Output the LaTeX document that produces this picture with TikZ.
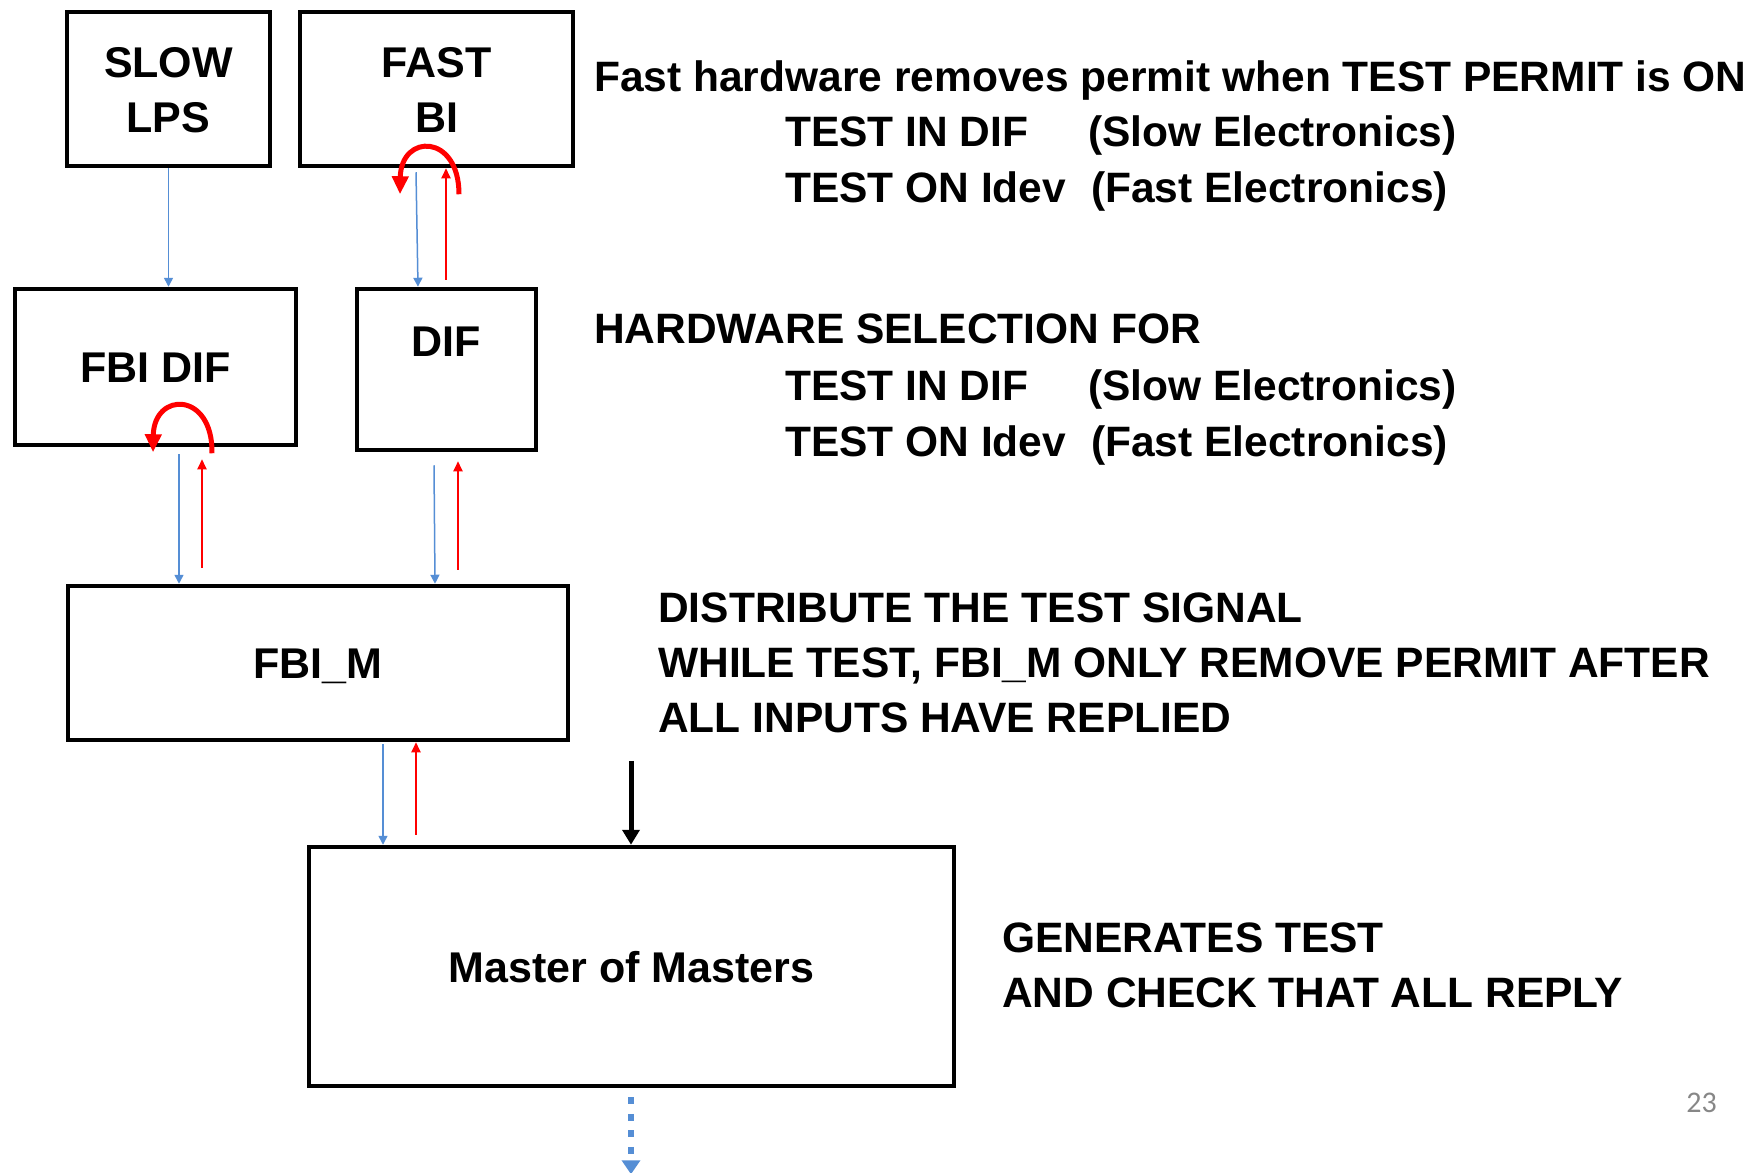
\documentclass[tikz,border=0pt]{standalone}
\usepackage{fontspec}
\setmainfont{Liberation Sans}
\newfontfamily\pagenumfont{Carlito}
\usetikzlibrary{arrows.meta,calc}
\definecolor{sigblue}{RGB}{85,142,213}
\definecolor{pagegray}{RGB}{135,135,135}
\tikzset{
  blk/.style={draw=black, line width=4.5pt, rectangle, inner sep=0pt,
    font=\fontsize{43}{55}\selectfont\bfseries, align=center,
    text height=31pt, text depth=0pt},
  twoline/.style={text height=86pt, text depth=0pt},
  lbl/.style={inner sep=0pt, font=\fontsize{43}{55}\selectfont\bfseries},
  txt/.style={anchor=base west, inner sep=0pt, font=\fontsize{42.5}{55}\selectfont\bfseries},
  sig/.style={draw=sigblue, line width=1.5pt, -{Triangle[length=9pt,width=9pt]}},
  ret/.style={draw=red, line width=1.8pt, -{Triangle[length=10pt,width=9pt]}},
  loopback/.style={draw=red, line width=5pt, -{Triangle[length=18pt,width=16pt]}},
  trigger/.style={draw=black, line width=5pt, -{Triangle[length=15pt,width=17pt]}},
  outlink/.style={draw=sigblue, line width=6.5pt, dash pattern=on 7pt off 9.5pt,
    -{Triangle[length=14pt,width=18pt]}}
}
\begin{document}
\begin{tikzpicture}[x=1pt,y=-1pt]
\fill[white] (0,0) rectangle (1763,1172);
\useasboundingbox (0,0) rectangle (1763,1172);

% ---- blocks ----
\node[blk, twoline, minimum width=203pt, minimum height=154pt] (slow) at (168.5,89) {SLOW\\LPS};
\node[blk, twoline, minimum width=273pt, minimum height=154pt] (fast) at (436.5,89) {FAST\\BI};
\node[blk, minimum width=281pt, minimum height=156pt] (fbidif) at (155.5,367) {FBI DIF};
\node[blk, minimum width=179pt, minimum height=161pt] (dif)   at (446.5,369.5) {};
\node[lbl, anchor=base] (diflbl) at (446.5,356) {DIF};
\node[blk, minimum width=500pt, minimum height=154pt] (fbim)  at (318,663)   {FBI\_M};
\node[blk, minimum width=645pt, minimum height=239pt] (mom)   at (631.5,966.5) {Master of Masters};

% ---- signal paths (blue = test request, red = reply) ----
\draw[sig] (slow.south) -- (slow.south |- fbidif.north);

\coordinate (fastdown) at ($(fast.south)+(-20.5,4)$);
\draw[sig] (fastdown) -- ($(dif.north)+(-28.5,0)$);
\coordinate (difup) at ($(dif.north)+(-0.5,-7)$);
\draw[ret] (difup) -- (difup |- fast.south);

\coordinate (fbidifdown) at ($(fbidif.south)+(23.5,7)$);
\draw[sig] (fbidifdown) -- (fbidifdown |- fbim.north);
\coordinate (fbidifup) at ($(fbim.north)+(-116,-16)$);
\draw[ret] (fbidifup) -- ($(fbidif.south)+(46.5,12)$);

\coordinate (difdown) at ($(dif.south)+(-12.5,13)$);
\draw[sig] (difdown) -- ($(fbim.north)+(117,0)$);
\coordinate (fbimup) at ($(fbim.north)+(140,-14)$);
\draw[ret] (fbimup) -- ($(dif.south)+(11.5,9)$);

\coordinate (fbimdown) at ($(fbim.south)+(65,2)$);
\draw[sig] (fbimdown) -- (fbimdown |- mom.north);
\coordinate (momup) at ($(mom.north)+(-215.5,-10)$);
\draw[ret] (momup) -- (momup |- fbim.south);

% ---- local loop-backs ----
\draw[loopback] ($(fast.south)+(22.5,26)$)
  .. controls ($(fast.south)+(22.5,-35)$) and ($(fast.south)+(-35.5,-35)$)
  .. ($(fast.south)+(-36.5,26)$);
\draw[loopback] ($(fbidif.south)+(56.5,6)$)
  .. controls ($(fbidif.south)+(57.5,-56)$) and ($(fbidif.south)+(-1.5,-56)$)
  .. ($(fbidif.south)+(-2.5,5)$);

% ---- test trigger and onward link ----
\coordinate (trig) at ($(mom.north)+(-0.5,-84)$);
\draw[trigger] (trig) -- ($(mom.north)+(-0.5,0)$);
\coordinate (onward) at ($(mom.south)+(-0.5,86)$);
\draw[outlink] ($(mom.south)+(-0.5,9)$) -- (onward);

% ---- descriptions ----
\node[txt] (t1a) at (594,91)  {Fast hardware removes permit when TEST PERMIT is ON};
\node[txt] (t1b) at (785,146) {TEST IN DIF};
\node[txt] (t1c) at (1088,146) {(Slow Electronics)};
\node[txt] (t1d) at (785,202) {TEST ON Idev};
\node[txt] (t1e) at (1091,202) {(Fast Electronics)};

\node[txt] (t2a) at (594,343) {HARDWARE SELECTION FOR};
\node[txt] (t2b) at (785,400) {TEST IN DIF};
\node[txt] (t2c) at (1088,400) {(Slow Electronics)};
\node[txt] (t2d) at (785,456) {TEST ON Idev};
\node[txt] (t2e) at (1091,456) {(Fast Electronics)};

\node[txt] (t3a) at (658,622) {DISTRIBUTE THE TEST SIGNAL};
\node[txt] (t3b) at (658,677) {WHILE TEST, FBI\_M ONLY REMOVE PERMIT AFTER};
\node[txt] (t3c) at (658,732) {ALL INPUTS HAVE REPLIED};

\node[txt] (t4a) at (1002,952)  {GENERATES TEST};
\node[txt] (t4b) at (1002,1007) {AND CHECK THAT ALL REPLY};

\node[anchor=base east, inner sep=0pt, text=pagegray,
      font=\pagenumfont\fontsize{30}{36}\selectfont] (pagenum) at (1717,1112) {23};
\end{tikzpicture}
\end{document}
